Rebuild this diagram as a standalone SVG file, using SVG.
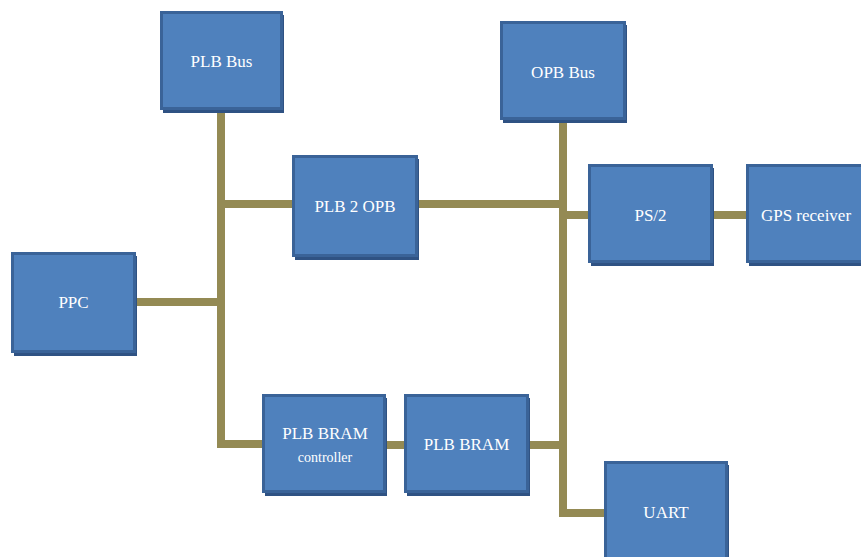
<svg xmlns="http://www.w3.org/2000/svg" width="861" height="557" viewBox="0 0 861 557">
<style>
.sh{fill:#2F5283}
.bx{fill:#4F81BD;stroke:#3A6398;stroke-width:3}
.t{font-family:"Liberation Serif","Times New Roman",serif;font-size:17px;fill:#FFFFFF;text-anchor:middle;dominant-baseline:central}
.ts{font-size:14px}
.c{fill:none;stroke:#948A54;stroke-width:8;stroke-linejoin:miter}
</style>
<rect width="861" height="557" fill="#FFFFFF"/>
<g id="connectors">
<path class="c" d="M221 110 V444 H263"/>
<path class="c" d="M221 204 H293"/>
<path class="c" d="M135 302 H221"/>
<path class="c" d="M417 204 H563"/>
<path class="c" d="M563 120 V513 H605"/>
<path class="c" d="M563 215 H589"/>
<path class="c" d="M712 215 H747"/>
<path class="c" d="M385 445 H405"/>
<path class="c" d="M528 445 H563"/>
</g>
<g id="plb-bus">
<rect class="sh" x="163" y="15" width="121" height="98"/>
<rect class="bx" x="161.5" y="12.5" width="120" height="96"/>
<text class="t" x="221.5" y="61">PLB Bus</text>
</g>
<g id="plb2opb">
<rect class="sh" x="295" y="159" width="124" height="101"/>
<rect class="bx" x="293.5" y="156.5" width="123" height="99"/>
<text class="t" x="355" y="206">PLB 2 OPB</text>
</g>
<g id="ppc">
<rect class="sh" x="14" y="256" width="123" height="100"/>
<rect class="bx" x="12.5" y="253.5" width="122" height="98"/>
<text class="t" x="73.5" y="302">PPC</text>
</g>
<g id="opb-bus">
<rect class="sh" x="503" y="25" width="124" height="98"/>
<rect class="bx" x="501.5" y="22.5" width="123" height="96"/>
<text class="t" x="563" y="72">OPB Bus</text>
</g>
<g id="ps2">
<rect class="sh" x="591" y="168" width="123" height="98"/>
<rect class="bx" x="589.5" y="165.5" width="122" height="96"/>
<text class="t" x="650.5" y="215">PS/2</text>
</g>
<g id="gps-receiver">
<rect class="sh" x="749" y="168" width="123" height="98"/>
<rect class="bx" x="747.5" y="165.5" width="122" height="96"/>
<text class="t" x="806" y="215">GPS receiver</text>
</g>
<g id="plb-bram-controller">
<rect class="sh" x="265" y="398" width="122" height="98"/>
<rect class="bx" x="263.5" y="395.5" width="121" height="96"/>
<text class="t" x="325" y="433">PLB BRAM</text>
<text class="t ts" x="325" y="457">controller</text>
</g>
<g id="plb-bram">
<rect class="sh" x="407" y="398" width="123" height="98"/>
<rect class="bx" x="405.5" y="395.5" width="122" height="96"/>
<text class="t" x="466.5" y="444">PLB BRAM</text>
</g>
<g id="uart">
<rect class="sh" x="607" y="465" width="122" height="98"/>
<rect class="bx" x="605.5" y="462.5" width="121" height="100"/>
<text class="t" x="666" y="512">UART</text>
</g>
</svg>
